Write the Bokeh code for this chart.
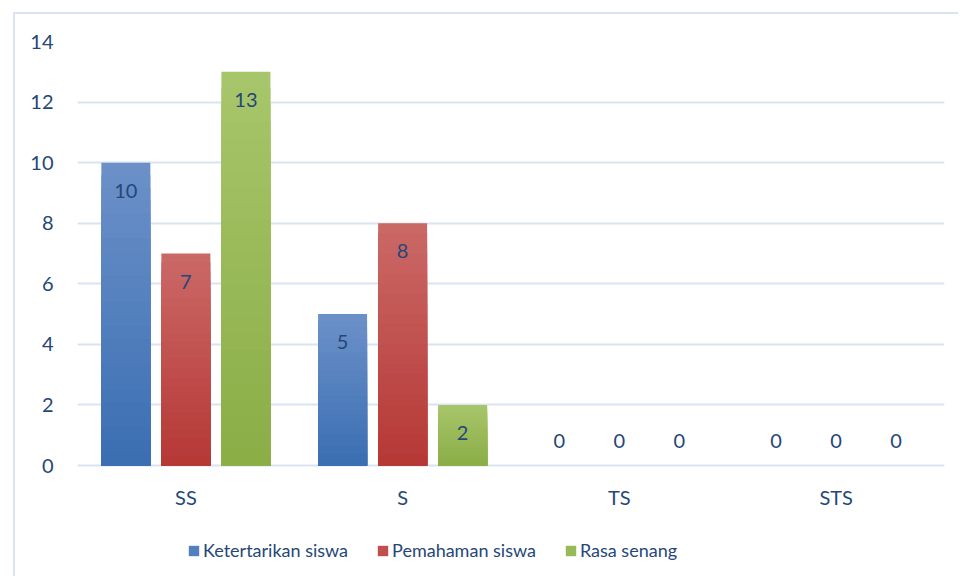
from bokeh.plotting import figure
from bokeh.models import ColumnDataSource, Legend, LegendItem, FactorRange
from bokeh.transform import dodge
from bokeh.core.properties import value
from bokeh.embed import file_html
from bokeh.resources import INLINE

categories = ["SS", "S", "TS", "STS"]
series_names = ["Ketertarikan siswa", "Pemahaman siswa", "Rasa senang"]
ketertarikan = [10, 5, 0, 0]
pemahaman = [7, 8, 0, 0]
rasa_senang = [13, 2, 0, 0]
y_ticks = [0, 2, 4, 6, 8, 10, 12, 14]

series_values = [ketertarikan, pemahaman, rasa_senang]
top_colors = [(0x6b, 0x90, 0xc8), (0xca, 0x68, 0x66), (0xa7, 0xc5, 0x6a)]
bot_colors = [(0x3b, 0x6f, 0xb2), (0xb6, 0x39, 0x36), (0x8b, 0xae, 0x47)]
offsets = [-0.277, 0.0, 0.277]
BAR_W = 0.226
N_LAYERS = 24

TXT = "#254778"
GRID = "#d9e3f1"
FONT = "Lato"
FS = "20px"
LFS = "18px"

W, H = 958, 576
LEFT, RIGHT, TOP = 77, 14, 41
PX_PER_UNIT = 424 / 14
frame_h = H - TOP
y_start = 14 - frame_h / PX_PER_UNIT

bg = (f"linear-gradient({GRID},{GRID}) 13px 12px / 2px calc(100% - 12px) no-repeat, "
      f"linear-gradient({GRID},{GRID}) 13px 12px / calc(100% - 13px) 2px no-repeat")

p = figure(x_range=FactorRange(*categories, range_padding=0), y_range=(y_start, 14),
           width=W, height=H,
           min_border_left=LEFT, min_border_right=RIGHT, min_border_top=TOP, min_border_bottom=0,
           output_backend="svg", toolbar_location=None,
           styles={"background": bg})
p.border_fill_color = None
p.background_fill_color = None
p.outline_line_color = None
p.xgrid.grid_line_color = None
p.ygrid.grid_line_color = GRID
p.ygrid.grid_line_width = 2
p.ygrid.ticker = y_ticks
p.yaxis.ticker = y_ticks
p.yaxis.axis_line_color = None
p.yaxis.major_tick_line_color = None
p.yaxis.minor_tick_line_color = None
p.yaxis.major_label_text_font = FONT
p.yaxis.major_label_text_font_size = FS
p.yaxis.major_label_text_color = TXT
p.yaxis.major_label_standoff = 18
p.xaxis.visible = False


def hexc(c):
    return "#%02x%02x%02x" % c


legend_items = []
for vals, name, tc, bc, off in zip(series_values, series_names, top_colors, bot_colors, offsets):
    rep = None
    for k in range(N_LAYERS):
        t = k / (N_LAYERS - 1)
        col = tuple(int(round(tc[i] + (bc[i] - tc[i]) * t)) for i in range(3))
        frac = (N_LAYERS - k) / N_LAYERS
        src = ColumnDataSource(dict(cat=categories, top=[v * frac for v in vals]))
        r = p.vbar(x=dodge("cat", off, range=p.x_range), top="top", bottom=0, width=BAR_W,
                   source=src, fill_color=hexc(col), line_color=None)
        if k == N_LAYERS // 2:
            rep = r
    legend_items.append(LegendItem(label=name, renderers=[rep]))

    lsrc = ColumnDataSource(dict(cat=categories, y=vals, label=[str(v) for v in vals],
                                 yoff=[28 if v > 0 else -25 for v in vals]))
    p.text(x=dodge("cat", off, range=p.x_range), y="y", text="label", y_offset="yoff",
           source=lsrc, text_align="center", text_baseline="middle",
           text_font=value(FONT), text_font_size=FS, text_color=TXT)

# category labels under the zero line
csrc = ColumnDataSource(dict(cat=categories, y=[0] * len(categories), label=categories))
p.text(x="cat", y="y", text="label", y_offset=31, source=csrc,
       text_align="center", text_baseline="middle",
       text_font=value(FONT), text_font_size=FS, text_color=TXT)

legend = Legend(items=legend_items, orientation="horizontal", location=(110, 15),
                glyph_width=13, glyph_height=13, label_standoff=3, spacing=28,
                padding=0, margin=0, border_line_color=None, background_fill_alpha=0,
                label_text_font=FONT, label_text_font_size=LFS, label_text_color=TXT)
p.add_layout(legend, "center")

open("out.html", "w").write(file_html(p, INLINE))
